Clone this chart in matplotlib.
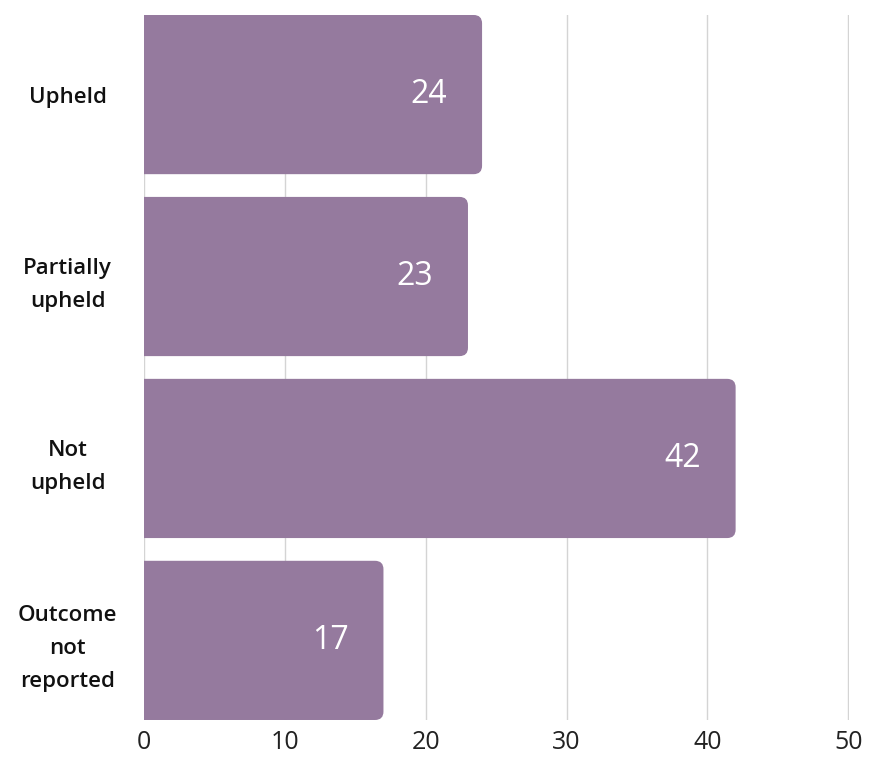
import matplotlib.pyplot as plt
from matplotlib.patches import FancyBboxPatch

categories = ["Upheld", "Partially\nupheld", "Not\nupheld", "Outcome\nnot\nreported"]
counts = [24, 23, 42, 17]
xticks = [0, 10, 20, 30, 40, 50]

bar_color = "#957a9e"
bar_h = 0.875

plt.rcParams['font.family'] = ['Open Sans', 'DejaVu Sans']

fig = plt.figure(figsize=(8.69, 7.64), dpi=100)
ax = fig.add_axes([0.1657, 0.0576, 0.8113, 0.9228])

ypos = list(range(len(categories)))
for y, v in zip(ypos, counts):
    # square on the left (clipped at x=0), rounded on the right
    patch = FancyBboxPatch((-2, y - bar_h / 2), v + 2, bar_h,
                           boxstyle="round,pad=0,rounding_size=0.6",
                           mutation_aspect=0.077,
                           facecolor=bar_color, edgecolor="none", zorder=2)
    ax.add_patch(patch)
    ax.annotate(str(v), xy=(v, y), xytext=(-25, 0), textcoords="offset points",
                ha="right", va="center", color="white", fontsize=23,
                fontweight="medium")

ax.set_xlim(0, 50.05)
ax.set_ylim(len(categories) - 1 + bar_h / 2, -bar_h / 2)
ax.set_xticks(xticks)
ax.set_xticklabels([str(t) for t in xticks], fontsize=18, color="#222222")
ax.set_yticks(ypos)
ax.set_yticklabels(categories, fontsize=16, fontweight="semibold",
                   ha="center", multialignment="center", color="#111111",
                   linespacing=1.75)
ax.tick_params(axis="y", length=0, pad=55)
ax.tick_params(axis="x", length=0, pad=7)
ax.grid(axis="x", color="#d4d4d4", linewidth=1, zorder=0)
ax.set_axisbelow(True)
for s in ax.spines.values():
    s.set_visible(False)

fig.savefig("out.png", dpi=100)
